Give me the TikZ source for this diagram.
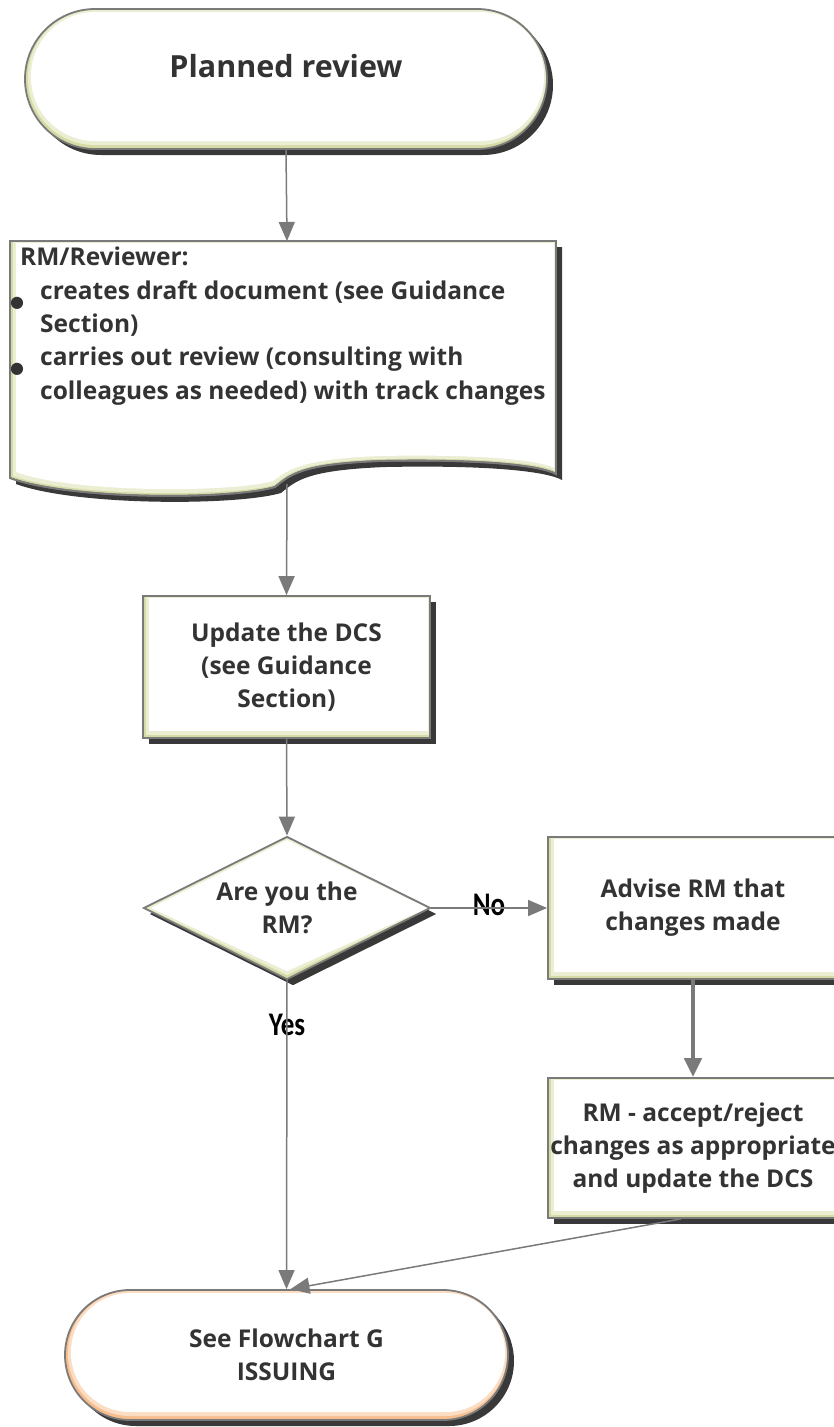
\documentclass[tikz,border=0pt]{standalone}
\usepackage{graphicx}
\usepackage{fontspec}
\setmainfont{Open Sans}
\newfontfamily\lblfont{Carlito}
\newfontfamily\bulfont{DejaVu Sans}
\usetikzlibrary{shapes.geometric,arrows.meta,shadows}
\definecolor{lgray}{HTML}{7A7A7A}
\definecolor{bev}{HTML}{D6DBA6}
\definecolor{bevm}{HTML}{EBEED3}
\definecolor{bevo}{HTML}{F6BE8E}
\definecolor{bevom}{HTML}{FBDDC4}
\definecolor{txt}{HTML}{333333}
\definecolor{shd}{HTML}{2E2E2E}
\tikzset{
  shad/.style={drop shadow={shadow xshift=6pt,shadow yshift=-6pt,fill=shd,opacity=0.95}},
  nodetext/.style={text=txt,font=\bfseries\fontsize{24.5}{33}\selectfont,align=center},
  procbox/.style={rectangle,draw=lgray,line width=1.8pt,fill=bev,shad,nodetext,inner sep=0pt,
    minimum width=287pt,minimum height=142pt,
    path picture={
      \fill[bevm] ([shift={(3pt,-1pt)}]path picture bounding box.north west) rectangle ([shift={(-1pt,3pt)}]path picture bounding box.south east);
      \fill[white] ([shift={(6pt,-2pt)}]path picture bounding box.north west) rectangle ([shift={(-2pt,7pt)}]path picture bounding box.south east);}},
  termA/.style={rectangle,rounded corners=70pt,draw=lgray,line width=1.8pt,fill=bev,shad,inner sep=0pt,
    minimum width=522pt,minimum height=140pt,
    path picture={
      \fill[bevm,rounded corners=67pt] ([shift={(3pt,-1pt)}]path picture bounding box.north west) rectangle ([shift={(-1pt,4pt)}]path picture bounding box.south east);
      \fill[white,rounded corners=64pt] ([shift={(6pt,-3pt)}]path picture bounding box.north west) rectangle ([shift={(-3pt,8pt)}]path picture bounding box.south east);}},
  termB/.style={rectangle,rounded corners=65pt,draw=lgray,line width=1.8pt,fill=bevo,shad,nodetext,inner sep=0pt,
    minimum width=443pt,minimum height=130pt,
    path picture={
      \fill[bevom,rounded corners=62pt] ([shift={(3pt,-1pt)}]path picture bounding box.north west) rectangle ([shift={(-1pt,4pt)}]path picture bounding box.south east);
      \fill[white,rounded corners=59pt] ([shift={(6pt,-3pt)}]path picture bounding box.north west) rectangle ([shift={(-3pt,8pt)}]path picture bounding box.south east);}},
  decbox/.style={diamond,shape aspect=2,draw=lgray,line width=1.8pt,fill=bev,shad,nodetext,inner sep=0pt,
    minimum width=287pt,minimum height=143pt,
    path picture={
      \fill[bevm] ([xshift=3pt]path picture bounding box.west) -- ([yshift=-1pt]path picture bounding box.north) -- ([xshift=-1pt]path picture bounding box.east) -- ([yshift=4pt]path picture bounding box.south) -- cycle;
      \fill[white] ([xshift=7pt]path picture bounding box.west) -- ([yshift=-3pt]path picture bounding box.north) -- ([xshift=-3pt]path picture bounding box.east) -- ([yshift=8pt]path picture bounding box.south) -- cycle;}},
  conn/.style={draw=lgray,line width=1.5pt,-{Triangle[length=19pt,width=16pt]},fill=lgray},
  lbl/.style={font=\lblfont\bfseries\fontsize{33}{33}\selectfont,text=black,inner sep=0pt}
}
\begin{document}
\begin{tikzpicture}[x=1pt,y=-1pt]
\useasboundingbox (0,0) rectangle (834,1427);
% top terminator
\node[termA,text=txt,font=\bfseries\fontsize{30.5}{33}\selectfont,text height=22pt,text depth=25pt] (tt) at (286,79) {Planned review};
% document shape
\filldraw[draw=lgray,line width=1.8pt,fill=bev,shad] (10,241) -- (556,241) -- (556,474) .. controls (540,465) and (480,459) .. (380,461) .. controls (300,464) and (290,475) .. (275,487) .. controls (230,500) and (70,500) .. (10,478) -- cycle;
\fill[bevm] (13,242) -- (555,242) -- (555,471) .. controls (540,463) and (480,457) .. (380,459) .. controls (300,462) and (289,473) .. (274,485) .. controls (230,497) and (71,497) .. (13,476) -- cycle;
\fill[white] (16,243) -- (554,243) -- (554,468) .. controls (540,460) and (480,454) .. (380,456) .. controls (300,459) and (288,470) .. (273,481) .. controls (230,493) and (72,493) .. (16,472) -- cycle;
\draw[draw=lgray,line width=1.8pt] (10,241) -- (556,241) -- (556,474) .. controls (540,465) and (480,459) .. (380,461) .. controls (300,464) and (290,475) .. (275,487) .. controls (230,500) and (70,500) .. (10,478) -- cycle;
\coordinate (docN) at (287,241);
\coordinate (docS) at (287,484);
\node[anchor=north west,inner sep=0pt,text=txt,font=\bfseries\fontsize{24.5}{33.3}\selectfont,align=left] (doctext) at (20,247)
 {RM/Reviewer:\\
  \makebox[20pt][l]{\hspace*{-10pt}\raisebox{-8pt}{\bulfont\fontsize{16}{16}\selectfont ●}}creates draft document (see Guidance\\
  \hspace*{20pt}Section)\\
  \makebox[20pt][l]{\hspace*{-10pt}\raisebox{-8pt}{\bulfont\fontsize{16}{16}\selectfont ●}}carries out review (consulting with\\
  \hspace*{20pt}colleagues as needed) with track changes};
% process boxes
\node[procbox] (upd) at (286.5,667) {Update the DCS\\(see Guidance\\Section)};
\node[decbox] (dia) at (287,908) {Are you the\\RM?};
\node[procbox,minimum width=290pt] (adv) at (693,908) {Advise RM that\\changes made};
\node[procbox,minimum width=290pt,minimum height=140pt] (rmb) at (693,1148) {RM - accept/reject\\changes as appropriate\\and update the DCS};
\node[termB] (bt) at (286.5,1355) {See Flowchart G\\ISSUING};
% labels
\node[lbl] (no) at (489,905) {\scalebox{0.82}[1]{No}};
\node[lbl] (yes) at (287,1025) {\scalebox{0.82}[1]{Yes}};
% connectors
\draw[conn] (tt.south) -- (docN);
\draw[conn] (docS) -- (upd.north);
\draw[conn] (upd.south) -- (dia.north);
\draw[conn] (dia.east) -- (adv.west);
\draw[conn,line width=4.5pt,-{Triangle[length=19pt,width=17pt]}] (adv.south) -- (rmb.north);
\draw[conn] (dia.south) -- (bt.north);
\draw[conn] ([xshift=-12pt]rmb.south) -- ([xshift=4pt]bt.north);
\end{tikzpicture}
\end{document}
